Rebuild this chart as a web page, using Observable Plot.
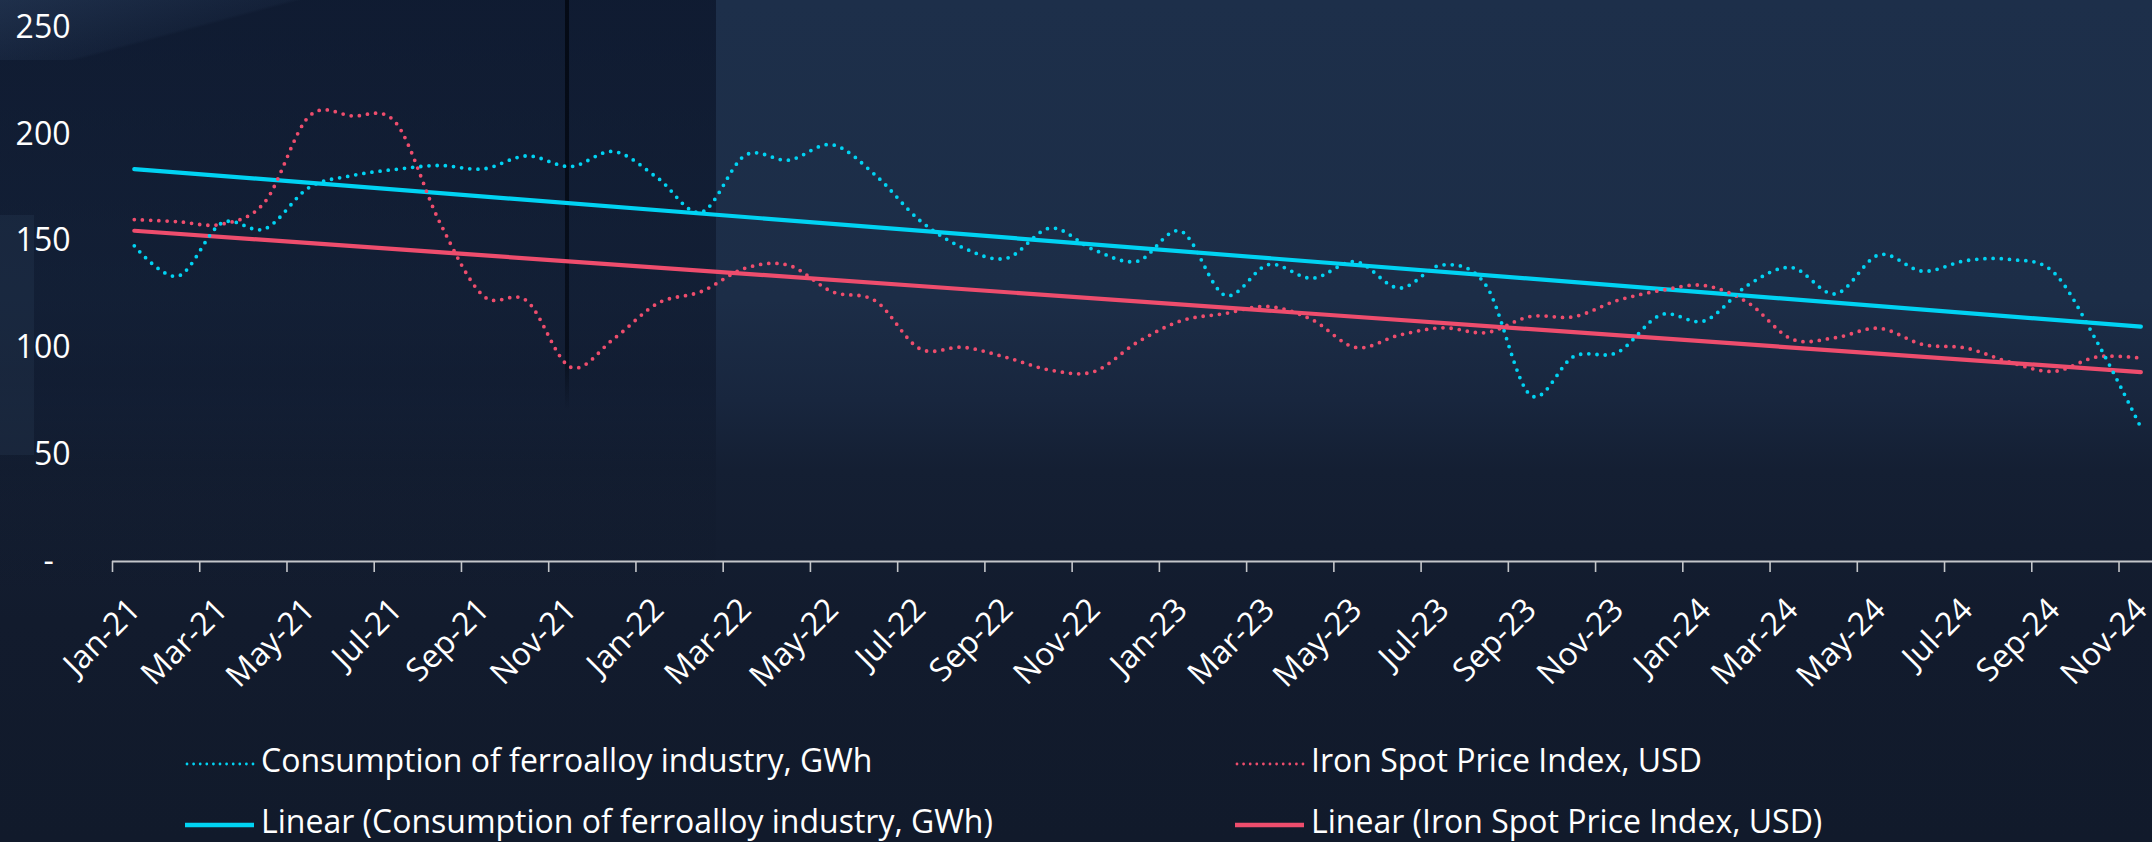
<!DOCTYPE html>
<html>
<head>
<meta charset="utf-8">
<script src="https://cdn.jsdelivr.net/npm/d3@7"></script>
<script src="https://cdn.jsdelivr.net/npm/@observablehq/plot@0.6"></script>
<style>
  html, body { margin: 0; padding: 0; width: 2152px; height: 842px; overflow: hidden; background: #111a2b; font-family: "Open Sans", sans-serif; }
  .abs { position: absolute; }
  #bg0 { left: 0; top: 0; width: 2152px; height: 842px;
    background: linear-gradient(to bottom, #1d2f4a 0px, #1c2d47 300px, #18263e 400px, #141f33 470px, #121b2d 620px, #111a2b 842px); }
  #bgLeft { left: 0; top: 0; width: 716px; height: 600px;
    background: linear-gradient(to bottom, rgba(6,13,32,0.58) 0px, rgba(8,15,32,0.42) 380px, rgba(10,17,32,0.15) 480px, rgba(10,17,32,0) 600px); }
  #bgStrip { left: 0; top: 215px; width: 34px; height: 240px; background: rgba(60,85,120,0.16); }
  #bgWedge { left: 0; top: 0; width: 420px; height: 60px; background: linear-gradient(165deg, rgba(70,100,140,0.28) 0%, rgba(70,100,140,0.08) 45%, rgba(70,100,140,0) 47%); }
  #bgLine { left: 565px; top: 0; width: 4px; height: 410px; background: linear-gradient(to bottom, rgba(3,8,18,0.9), rgba(3,8,18,0.7) 85%, rgba(3,8,18,0)); }
  #chart { left: 0; top: 0; }
  .legtext { color: #ffffff; font-size: 32px; line-height: 32px; white-space: nowrap; }
</style>
</head>
<body>
<div id="bg0" class="abs"></div>
<div id="bgLeft" class="abs"></div>
<div id="bgStrip" class="abs"></div>
<div id="bgWedge" class="abs"></div>
<div id="bgLine" class="abs"></div>
<div id="chart" class="abs"></div>
<div id="legend"></div>
<script>
// ---- data ----
const months = [
  "Jan-21","Feb-21","Mar-21","Apr-21","May-21","Jun-21","Jul-21","Aug-21","Sep-21","Oct-21","Nov-21","Dec-21",
  "Jan-22","Feb-22","Mar-22","Apr-22","May-22","Jun-22","Jul-22","Aug-22","Sep-22","Oct-22","Nov-22","Dec-22",
  "Jan-23","Feb-23","Mar-23","Apr-23","May-23","Jun-23","Jul-23","Aug-23","Sep-23","Oct-23","Nov-23","Dec-23",
  "Jan-24","Feb-24","Mar-24","Apr-24","May-24","Jun-24","Jul-24","Aug-24","Sep-24","Oct-24","Nov-24"
];
const consumption = [
  147.8, 133.6, 158.4, 155.8, 175.0, 180.7, 183.6, 185.4, 183.8, 189.9,
  184.9, 191.9, 179.5, 163.5, 190.1, 187.9, 195.1, 180.7, 159.8, 146.9,
  142.0, 156.1, 145.9, 140.6, 154.6, 124.7, 139.0, 132.6, 140.4, 128.0,
  138.9, 128.9, 78.0, 96.0, 97.9, 115.5, 112.7, 129.5, 137.6, 125.3,
  143.6, 135.9, 140.9, 141.4, 135.4, 102.7, 62.8
];
const ironPrice = [
  160.1, 159.1, 157.9, 168.5, 208.3, 208.6, 205.3, 158.9, 124.4, 122.0,
  91.0, 104.4, 120.9, 126.4, 137.3, 138.7, 126.3, 121.9, 99.7, 100.3,
  95.5, 89.6, 88.9, 102.7, 112.7, 116.1, 119.4, 113.2, 100.2, 106.0,
  109.4, 107.2, 114.7, 114.6, 122.2, 126.9, 129.2, 121.1, 104.1, 104.8,
  109.2, 101.6, 99.9, 93.3, 89.0, 95.8, 95.2
];
const yTicks = [0, 50, 100, 150, 200, 250];
const seriesNames = [
  "Consumption of ferroalloy industry, GWh",
  "Iron Spot Price Index, USD"
];

// ---- derived tables ----
const rows = months.map((m, i) => ({i, month: m, consumption: consumption[i], iron: ironPrice[i]}));
const labelRows = rows.filter(d => d.i % 2 === 0);
const tickBounds = labelRows.map(d => d.i - 0.5);

const CYAN = "#00d3f3";
const PINK = "#ee4d6d";
const AXIS = "#c4c6ca";

const chart = Plot.plot({
  width: 2152,
  height: 720,
  marginLeft: 112,
  marginRight: 0,
  marginTop: 27,
  marginBottom: 159,
  style: {background: "transparent", overflow: "visible", color: "#ffffff", fontFamily: "'Open Sans', sans-serif"},
  x: {domain: [-0.5, months.length - 0.5], range: [112, 112 + 43.62 * months.length], label: null},
  y: {domain: [0, 250], label: null},
  marks: [
    Plot.ruleY([0], {stroke: AXIS, strokeWidth: 1.8}),
    Plot.axisX({ticks: tickBounds, tickSize: 11, tickFormat: () => "", stroke: AXIS, strokeWidth: 1.6, label: null}),
    Plot.axisY({ticks: yTicks, tickSize: 0, tickPadding: 42, fontSize: 32, color: "#ffffff", label: null,
      tickFormat: d => d === 0 ? "-\u00a0\u00a0" : String(d)}),
    Plot.text(labelRows, {x: "i", text: "month", frameAnchor: "bottom", rotate: -45, textAnchor: "end",
      lineAnchor: "bottom", dx: 8, dy: 50, fontSize: 32, fill: "#ffffff"}),
    Plot.linearRegressionY(rows, {x: "i", y: "consumption", stroke: CYAN, strokeWidth: 4.2, ci: 0}),
    Plot.linearRegressionY(rows, {x: "i", y: "iron", stroke: PINK, strokeWidth: 4.2, ci: 0}),
    Plot.line(rows, {x: "i", y: "iron", curve: "cardinal", stroke: PINK, strokeWidth: 3.8,
      strokeDasharray: "0 8.2", strokeLinecap: "round"}),
    Plot.line(rows, {x: "i", y: "consumption", curve: "cardinal", stroke: CYAN, strokeWidth: 3.8,
      strokeDasharray: "0 8.2", strokeLinecap: "round"})
  ]
});
document.getElementById("chart").appendChild(chart);

// ---- legend (HTML below the chart svg) ----
const legendItems = [
  {name: seriesNames[0], color: CYAN, dotted: true, left: 185, base: 772},
  {name: seriesNames[1], color: PINK, dotted: true, left: 1235, base: 772},
  {name: "Linear (" + seriesNames[0] + ")", color: CYAN, dotted: false, left: 185, base: 833},
  {name: "Linear (" + seriesNames[1] + ")", color: PINK, dotted: false, left: 1235, base: 833}
];
const leg = document.getElementById("legend");
for (const it of legendItems) {
  const sw = document.createElementNS("http://www.w3.org/2000/svg", "svg");
  sw.setAttribute("width", "72");
  sw.setAttribute("height", "12");
  sw.style.position = "absolute";
  sw.style.left = it.left + "px";
  sw.style.top = (it.base - 14) + "px";
  const ln = document.createElementNS("http://www.w3.org/2000/svg", "line");
  ln.setAttribute("x1", it.dotted ? "2" : "0");
  ln.setAttribute("x2", "69");
  ln.setAttribute("y1", "6");
  ln.setAttribute("y2", "6");
  ln.setAttribute("stroke", it.color);
  if (it.dotted) {
    ln.setAttribute("stroke-width", "2.8");
    ln.setAttribute("stroke-dasharray", "0 6.6");
    ln.setAttribute("stroke-linecap", "round");
  } else {
    ln.setAttribute("stroke-width", "4.6");
  }
  sw.appendChild(ln);
  leg.appendChild(sw);
  const tx = document.createElement("div");
  tx.className = "legtext abs";
  tx.style.left = (it.left + 76) + "px";
  tx.style.top = (it.base - 28) + "px";
  tx.textContent = it.name;
  leg.appendChild(tx);
}
</script>
</body>
</html>
